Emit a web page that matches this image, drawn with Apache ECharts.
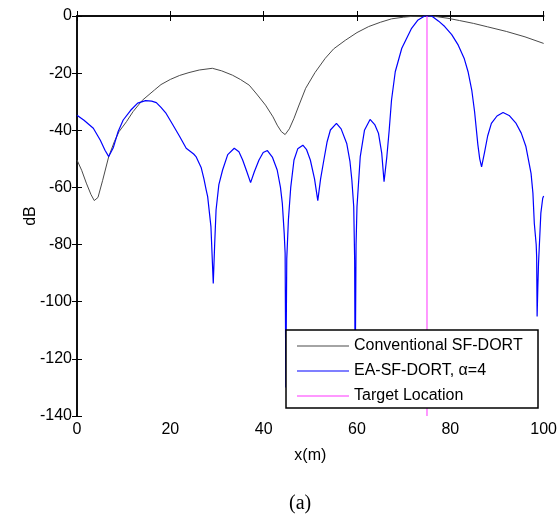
<!DOCTYPE html>
<html>
<head>
<meta charset="utf-8">
<title>SF-DORT</title>
<script src="https://cdn.jsdelivr.net/npm/echarts@6/dist/echarts.min.js"></script>
<style>
    html, body { margin: 0; padding: 0; background: #fff; }
    #main { width: 560px; height: 514px; }
</style>
</head>
<body>
<div id="main"></div>
<script>
    // Conventional SF-DORT
    var convX = [0, 1, 2, 3, 3.7, 4.5, 5.5, 6.8, 8, 9, 10.6, 12, 14, 16.6, 18, 20, 22, 24, 26.2, 29, 31, 33.3, 35, 36.9, 38.5, 40.4, 42, 42.9, 43.8, 44.6, 45.5, 46.5, 47.5, 49, 51, 53.2, 55, 57.5, 60, 62.5, 65, 67.4, 70, 72, 74.5, 77, 79.5, 82, 85, 88, 92, 96, 100];
    var convY = [-50.4, -54, -58.5, -62.5, -64.6, -63.5, -57.5, -49.2, -44, -40.5, -37, -33.5, -29.5, -25.9, -24, -22.2, -20.8, -19.8, -18.9, -18.3, -19.2, -20.7, -22.2, -24.2, -27.3, -31.2, -35.3, -38.2, -40.5, -41.5, -39.5, -35.8, -31.5, -25.3, -19.8, -14.8, -11.5, -8.5, -5.8, -3.7, -2.2, -1.0, -0.4, -0.1, 0, -0.2, -0.8, -1.6, -2.6, -3.8, -5.4, -7.3, -9.6];

    // EA-SF-DORT, alpha=4
    var eaX = [0, 1.5, 3.5, 5, 6, 6.8, 7.8, 8.8, 9.9, 11.5, 13, 14.7, 16, 17, 18, 19.1, 20.5, 22, 23.4, 25, 25.5, 26.2, 26.6, 27.2, 27.7, 28, 28.7, 29.2, 29.5, 29.8, 30.4, 31.2, 32.3, 33.7, 34.7, 35.5, 36.4, 37.2, 38, 39, 39.9, 40.8, 41.9, 42.9, 43.6, 44, 44.4, 44.6, 44.75, 44.95, 45.3, 45.8, 46.5, 47.3, 48.4, 49.2, 50, 50.9, 51.6, 52.2, 52.9, 53.6, 54.3, 55.6, 56.6, 57.8, 58.5, 58.9, 59.3, 59.5, 59.6, 59.8, 60, 60.7, 61.6, 62.8, 63.8, 64.6, 65.3, 65.8, 66.4, 66.9, 67.4, 68.2, 69.6, 71.7, 73, 74.5, 76, 77.5, 78.8, 80.3, 81.7, 83, 83.8, 84.6, 85.2, 85.9, 86.3, 86.7, 87.3, 88, 88.8, 90, 91.3, 92.6, 94.1, 95.2, 96.2, 97.3, 97.7, 98, 98.4, 98.5, 98.6, 98.75, 98.9, 99.4, 99.8, 100];
    var eaY = [-34.7, -36.5, -39.3, -43.5, -47, -49.2, -46, -40.5, -36.4, -33, -30.5, -29.6, -29.8, -30.3, -32, -34.1, -38, -42.2, -46.3, -48.3, -49.2, -51.6, -53, -57, -61, -63.2, -73.7, -93.6, -80, -67.9, -59, -53.9, -48.5, -46.3, -47.5, -50.4, -54.5, -58.3, -54.5, -50.4, -47.8, -47.1, -49.5, -53.9, -60, -65.6, -76, -83, -130, -85, -71.4, -60, -50.4, -46.5, -45.2, -46.8, -50.4, -57, -64.6, -57, -50.4, -44, -39.9, -37.6, -39.5, -44.6, -51, -57.4, -66.7, -85.4, -130, -80, -66.7, -49.2, -40, -36.2, -38, -41, -48, -58, -49.2, -40, -29.4, -19.5, -11.3, -4.3, -1.5, 0, 0, -1.8, -3.7, -6.5, -10.2, -15, -19.5, -26, -33.5, -45, -50, -52.8, -48, -42, -37.6, -35, -33.8, -34.8, -37.6, -41, -45.7, -55.1, -62, -72.6, -80, -84.2, -105.2, -95, -86.6, -69, -63.8, -63];

    // Target Location
    var targetX = [75, 75];
    var targetY = [0, -140];

    var xTicks = [0, 20, 40, 60, 80, 100];
    var yTicks = [-140, -120, -100, -80, -60, -40, -20, 0];

    var names = ['Conventional SF-DORT', 'EA-SF-DORT, \u03b1=4', 'Target Location'];

    function pairs(xs, ys) {
        return xs.map(function (x, i) { return [x, ys[i]]; });
    }

    var font = 'Liberation Sans, Arial, sans-serif';
    var axisLine = { lineStyle: { color: '#000', width: 1.5 } };
    var tick = { inside: true, length: 5, lineStyle: { color: '#000', width: 1 } };

    function xAx(pos, labels) {
        return {
            type: 'value', position: pos,
            min: xTicks[0], max: xTicks[xTicks.length - 1], interval: xTicks[1] - xTicks[0],
            axisLine: axisLine, axisTick: tick, splitLine: { show: false },
            axisLabel: { show: labels, color: '#000', fontSize: 16, fontFamily: font, margin: 6 },
            name: labels ? 'x(m)' : '', nameLocation: 'middle', nameGap: 32, nameMoveOverlap: false,
            nameTextStyle: { color: '#000', fontSize: 16, fontFamily: font }
        };
    }
    function yAx(pos, labels) {
        return {
            type: 'value', position: pos,
            min: yTicks[0], max: yTicks[yTicks.length - 1], interval: yTicks[1] - yTicks[0],
            axisLine: axisLine, axisTick: tick, splitLine: { show: false },
            axisLabel: { show: labels, color: '#000', fontSize: 16, fontFamily: font, margin: 5 },
            name: labels ? 'dB' : '', nameLocation: 'middle', nameGap: 38, nameMoveOverlap: false,
            nameTextStyle: { color: '#000', fontSize: 16, fontFamily: font }
        };
    }

    var myChart = echarts.init(document.getElementById('main'));
    var option = {
        animation: false,
        backgroundColor: '#fff',
        grid: { left: 77, top: 16, width: 469, height: 400, containLabel: false },
        xAxis: [xAx('bottom', true), xAx('top', false)],
        yAxis: [yAx('left', true), yAx('right', false)],
        legend: {
            orient: 'vertical',
            left: 286, top: 330,
            z: 60,
            data: names,
            icon: 'rect',
            itemWidth: 52, itemHeight: 1,
            itemGap: 9,
            padding: [8, 14, 4, 11],
            selectedMode: false,
            textStyle: { color: '#000', fontSize: 16, fontFamily: font, lineHeight: 16 }
        },
        graphic: [
            {
                // legend box
                type: 'rect', z: 50, silent: true,
                shape: { x: 286, y: 330, width: 252, height: 78 },
                style: { fill: '#fff', stroke: '#000', lineWidth: 1.5 }
            },
            {
                type: 'text', left: 289, top: 494,
                style: { text: '(a)', fill: '#000', font: '20px "Liberation Serif", "Times New Roman", serif' }
            }
        ],
        series: [
            {
                name: names[0], type: 'line', data: pairs(convX, convY),
                showSymbol: false, symbol: 'none', color: '#4a4a4a',
                lineStyle: { color: '#4a4a4a', width: 1 }
            },
            {
                name: names[1], type: 'line', data: pairs(eaX, eaY),
                showSymbol: false, symbol: 'none', color: '#0000ff',
                lineStyle: { color: '#0000ff', width: 1.2 }
            },
            {
                name: names[2], type: 'line', data: pairs(targetX, targetY),
                showSymbol: false, symbol: 'none', color: '#ff33ff',
                lineStyle: { color: '#ff33ff', width: 1 }
            }
        ]
    };
    myChart.setOption(option);
</script>
</body>
</html>
